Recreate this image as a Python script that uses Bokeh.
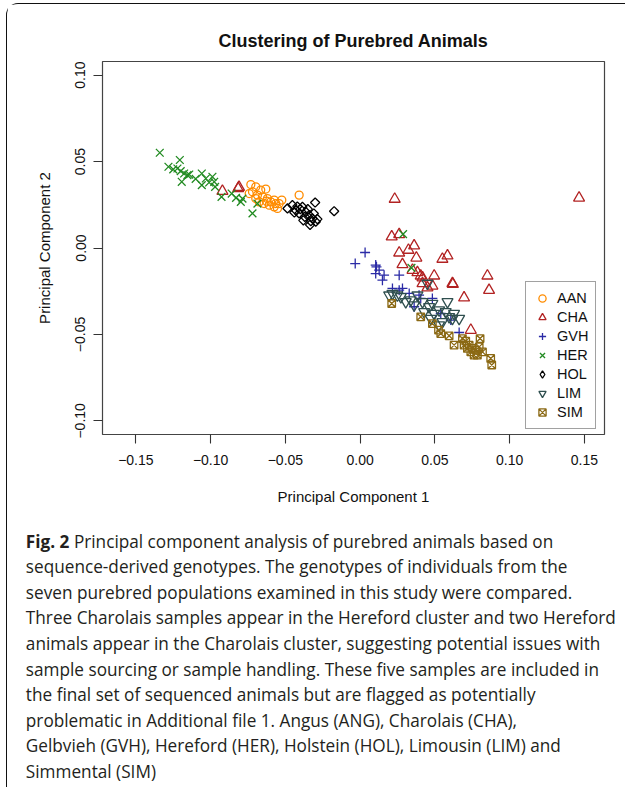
from bokeh.plotting import figure
from bokeh.models import Range1d, FixedTicker, Div, Spacer, LegendItem, Legend
from bokeh.layouts import column, row
from bokeh.embed import file_html
from bokeh.resources import INLINE
import math

# ---------------- data (PC1, PC2) ----------------
groups = ["AAN", "CHA", "GVH", "HER", "HOL", "LIM", "SIM"]

aan_x = [-0.0731, -0.0698, -0.0665, -0.0631, -0.0720, -0.0687, -0.0653, -0.0620, -0.0598, -0.0575, -0.0542,
         -0.0553, -0.0524, -0.0408, -0.0742, -0.0675, -0.0642, -0.0608, -0.0575, -0.0698, -0.0626, -0.0564]
aan_y = [0.0367, 0.0354, 0.0335, 0.0341, 0.0325, 0.0306, 0.0296, 0.0286, 0.0267, 0.0277, 0.0257,
         0.0229, 0.0277, 0.0306, 0.0315, 0.0267, 0.0257, 0.0248, 0.0238, 0.0286, 0.0271, 0.0257]

cha_x = [-0.0921, -0.0816, -0.0810,
         0.0231, 0.1464, 0.0211, 0.0261, 0.0261, 0.0323, 0.0361, 0.0376, 0.0283, 0.0550, 0.0584, 0.0383,
         0.0350, 0.0405, 0.0495, 0.0417, 0.0483, 0.0417, 0.0617, 0.0620, 0.0851, 0.0862, 0.0695, 0.0740, 0.0450]
cha_y = [0.0329, 0.0344, 0.0352,
         0.0283, 0.0290, 0.0065, 0.0078, -0.0028, -0.0012, 0.0013, -0.0057, -0.0095, -0.0064, -0.0045, -0.0142,
         -0.0128, -0.0161, -0.0161, -0.0172, -0.0219, -0.0205, -0.0205, -0.0210, -0.0161, -0.0244, -0.0288, -0.0475, -0.0230]

gvh_x = [0.0033, -0.0033, 0.0104, 0.0109, 0.0127, 0.0104, 0.0160, 0.0149, 0.0261, 0.0216, 0.0261,
         0.0283, 0.0328, 0.0394, 0.0483, 0.0361, 0.0539, 0.0606, 0.0662, 0.0405]
gvh_y = [-0.0026, -0.0090, -0.0099, -0.0109, -0.0128, -0.0148, -0.0157, -0.0186, -0.0157, -0.0234, -0.0244,
         -0.0234, -0.0263, -0.0273, -0.0292, -0.0340, -0.0379, -0.0417, -0.0489, -0.0292]

her_x = [-0.1340, -0.1282, -0.1206, -0.1222, -0.1200, -0.1177, -0.1155, -0.1193, -0.1143, -0.1059, -0.1059,
         -0.1032, -0.0988, -0.1010, -0.0976, -0.0970, -0.0927, -0.0859, -0.0798, -0.0787, -0.0720, -0.0687,
         -0.1250, -0.1100, -0.0830, 0.0287, 0.0343]
her_y = [0.0551, 0.0470, 0.0509, 0.0460, 0.0445, 0.0431, 0.0422, 0.0383, 0.0425, 0.0431, 0.0364,
         0.0402, 0.0412, 0.0379, 0.0383, 0.0354, 0.0296, 0.0315, 0.0267, 0.0286, 0.0200, 0.0257,
         0.0455, 0.0400, 0.0290, 0.0080, -0.0115]

hol_x = [-0.0486, -0.0453, -0.0431, -0.0408, -0.0386, -0.0364, -0.0341, -0.0319, -0.0297, -0.0301, -0.0286,
         -0.0174, -0.0440, -0.0400, -0.0370, -0.0350, -0.0330, -0.0310, -0.0420, -0.0380, -0.0335]
hol_y = [0.0229, 0.0248, 0.0219, 0.0200, 0.0238, 0.0209, 0.0190, 0.0171, 0.0152, 0.0263, 0.0167,
         0.0213, 0.0205, 0.0225, 0.0180, 0.0225, 0.0155, 0.0200, 0.0240, 0.0160, 0.0134]

lim_x = [0.0216, 0.0272, 0.0305, 0.0361, 0.0417, 0.0450, 0.0461, 0.0428, 0.0495, 0.0472, 0.0528, 0.0572,
         0.0584, 0.0595, 0.0617, 0.0550, 0.0662, 0.0528, 0.0249, 0.0383, 0.0338, 0.0483, 0.0194, 0.0628]
lim_y = [-0.0263, -0.0282, -0.0311, -0.0330, -0.0311, -0.0205, -0.0340, -0.0369, -0.0379, -0.0408, -0.0359, -0.0369,
         -0.0311, -0.0398, -0.0408, -0.0427, -0.0408, -0.0446, -0.0273, -0.0273, -0.0301, -0.0321, -0.0273, -0.0379]

sim_x = [0.0211, 0.0405, 0.0483, 0.0524, 0.0539, 0.0595, 0.0628, 0.0684, 0.0706, 0.0729, 0.0751, 0.0773,
         0.0796, 0.0802, 0.0818, 0.0762, 0.0873, 0.0880, 0.0695, 0.0740, 0.0784, 0.0717]
sim_y = [-0.0321, -0.0398, -0.0437, -0.0475, -0.0495, -0.0508, -0.0562, -0.0524, -0.0539, -0.0562, -0.0581, -0.0591,
         -0.0572, -0.0524, -0.0601, -0.0620, -0.0639, -0.0677, -0.0562, -0.0601, -0.0620, -0.0581]

xticks = [-0.15, -0.10, -0.05, 0.00, 0.05, 0.10, 0.15]
xtick_labels = ["\u22120.15", "\u22120.10", "\u22120.05", "0.00", "0.05", "0.10", "0.15"]
yticks = [-0.10, -0.05, 0.00, 0.05, 0.10]
ytick_labels = ["\u22120.10", "\u22120.05", "0.00", "0.05", "0.10"]

title_text = "Clustering of Purebred Animals"
xlabel = "Principal Component 1"
ylabel = "Principal Component 2"

caption_lines = [
    "<b>Fig. 2</b> Principal component analysis of purebred animals based on",
    "sequence-derived genotypes. The genotypes of individuals from the",
    "seven purebred populations examined in this study were compared.",
    "Three Charolais samples appear in the Hereford cluster and two Hereford",
    "animals appear in the Charolais cluster, suggesting potential issues with",
    "sample sourcing or sample handling. These five samples are included in",
    "the final set of sequenced animals but are flagged as potentially",
    "problematic in Additional file 1. Angus (ANG), Charolais (CHA),",
    "Gelbvieh (GVH), Hereford (HER), Holstein (HOL), Limousin (LIM) and",
    "Simmental (SIM)",
]

# ---------------- figure ----------------
FONT = "Liberation Sans"
p = figure(width=608, height=515, output_backend="svg", toolbar_location=None,
           x_range=Range1d(-0.1723, 0.1634), y_range=Range1d(-0.1079, 0.1079),
           min_border_left=95, min_border_right=11, min_border_top=57, min_border_bottom=85)
p.grid.visible = False
p.outline_line_color = "#444444"
p.outline_line_width = 1.2

p.title.text = title_text
p.title.align = "center"
p.title.text_font = FONT
p.title.text_font_size = "18px"
p.title.text_font_style = "bold"
p.title.text_color = "#111111"
p.title.standoff = 21

for ax in (p.xaxis[0], p.yaxis[0]):
    ax.axis_line_color = None
    ax.major_tick_in = 0
    ax.major_tick_out = 9
    ax.major_tick_line_color = "#333333"
    ax.major_tick_line_width = 1.1
    ax.minor_tick_line_color = None
    ax.major_label_text_font = FONT
    ax.major_label_text_font_size = "14px"
    ax.major_label_text_color = "#111111"
    ax.axis_label_text_font = FONT
    ax.axis_label_text_font_size = "15px"
    ax.axis_label_text_font_style = "normal"
    ax.axis_label_text_color = "#111111"
    ax.axis_label_standoff = 20

p.xaxis.ticker = FixedTicker(ticks=xticks)
p.xaxis.major_label_overrides = dict(zip(xticks, xtick_labels))
p.xaxis.major_label_standoff = 11
p.xaxis.axis_label = xlabel
p.yaxis.ticker = FixedTicker(ticks=yticks)
p.yaxis.major_label_overrides = dict(zip(yticks, ytick_labels))
p.yaxis.major_label_orientation = "vertical"
p.yaxis.major_label_standoff = 8
p.yaxis.axis_label = ylabel

LW = 1.3
r_aan = p.scatter(aan_x, aan_y, marker="circle", size=8, fill_color=None, line_color="#FF8C00", line_width=LW)
r_cha = p.scatter(cha_x, cha_y, marker="triangle", size=11, fill_color=None, line_color="#B22222", line_width=LW)
r_gvh = p.scatter(gvh_x, gvh_y, marker="cross", size=10, fill_color=None, line_color="#2B2BA6", line_width=LW)
r_her = p.scatter(her_x, her_y, marker="x", size=11, fill_color=None, line_color="#228B22", line_width=LW)
r_hol = p.scatter(hol_x, hol_y, marker="square", angle=math.pi / 4, size=6.5, fill_color=None, line_color="#000000", line_width=LW)
r_lim = p.scatter(lim_x, lim_y, marker="inverted_triangle", size=11, fill_color=None, line_color="#2F4F4F", line_width=LW)
r_sim = p.scatter(sim_x, sim_y, marker="square_x", size=7.5, fill_color=None, line_color="#8B6914", line_width=LW)
# legend-only key for the diamond (legend glyphs ignore rotation); one NaN entry, nothing drawn in the plot
nan = float("nan")
r_hol_key = p.scatter(x=[nan], y=[nan], marker="diamond", size=8, fill_color=None, line_color="#000000", line_width=LW)

lg = Legend(items=[
    LegendItem(label=groups[0], renderers=[r_aan]),
    LegendItem(label=groups[1], renderers=[r_cha]),
    LegendItem(label=groups[2], renderers=[r_gvh]),
    LegendItem(label=groups[3], renderers=[r_her]),
    LegendItem(label=groups[4], renderers=[r_hol_key]),
    LegendItem(label=groups[5], renderers=[r_lim]),
    LegendItem(label=groups[6], renderers=[r_sim]),
])
p.add_layout(lg, "center")
lg.location = (423, 5)
lg.margin = 0
lg.padding = 7
lg.spacing = 1
lg.glyph_width = 18
lg.glyph_height = 18
lg.label_height = 18
lg.label_standoff = 6
lg.label_text_font = FONT
lg.label_text_font_size = "14.5px"
lg.label_text_color = "#111111"
lg.border_line_color = "#444444"
lg.border_line_width = 1.2
lg.background_fill_color = "white"
lg.background_fill_alpha = 1.0

cap_html = ('<div style="font-family:\'Open Sans\';font-size:18px;line-height:25.6px;color:#231f20;'
            'white-space:nowrap;padding-top:4.6px;padding-left:14.5px;transform:scaleX(0.955);transform-origin:0 0;">'
            + "<br>".join(caption_lines) + "</div>")
cap = Div(text=cap_html, width=608, height=258)

inner = column(p, cap,
               styles={"border-left": "1.6px solid #111", "border-top": "1.6px solid #111",
                       "border-top-left-radius": "12px"})
layout = column(Spacer(height=3, width=10), row(Spacer(width=6, height=10), inner))

open("out.html", "w").write(file_html(layout, INLINE))
